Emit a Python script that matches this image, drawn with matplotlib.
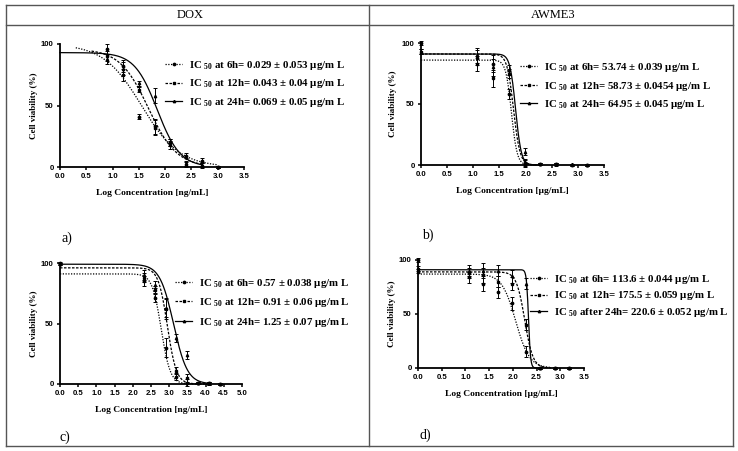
import numpy as np
import matplotlib
matplotlib.use('Agg')
import matplotlib.pyplot as plt
from matplotlib.lines import Line2D

W, H = 738, 451

# ---- data ----
# panel a: DOX, log ng/mL
a_x = [0.9, 1.2, 1.5, 1.8, 2.1, 2.4, 2.7, 3.0]
a_6h = [96, 82, 41, 33, 20, 9, 5, 0]
a_12h = [90, 75, 63, 32, 18, 2, 1, 0]
a_24h = [88, 80, 68, 58, 20, 3, 2, 0]
a_err = [4, 5, 2, 6, 3, 2, 2, 1]
# fit: top, log IC50, hill, x start, x end
a_fit_6h = [100, 1.55, 1.2, 0.3, 3.0]
a_fit_12h = [96, 1.68, 1.6, 0.6, 2.7]
a_fit_24h = [93, 1.85, 2.0, 0.0, 2.7]

# panel b: AWME3, log ug/mL
b_x = [0.0, 1.08, 1.38, 1.68, 1.98, 2.28, 2.58, 2.88, 3.18]
b_6h = [100, 88, 83, 58, 2, 1, 1, 0, 0]
b_12h = [93, 83, 71, 75, 1, 1, 0.5, 0, 0]
b_24h = [93, 90, 80, 78, 11, 1, 1, 0.5, 0]
b_err = [2, 6, 7, 4, 3, 1, 1, 0.5, 0.5]
b_fit_6h = [86, 1.73, 8.0, 0.0, 2.2]
b_fit_12h = [91, 1.77, 7.0, 0.0, 2.25]
b_fit_24h = [91, 1.81, 8.0, 0.0, 2.3]

# panel c: DOX, log ng/mL
c_x = [0.0, 2.3, 2.6, 2.9, 3.2, 3.5, 3.8, 4.1, 4.4]
c_6h = [100, 85, 71, 30, 6, 1, 1, 0.5, 0]
c_12h = [99, 88, 78, 62, 11, 5, 1, 0.5, 0]
c_24h = [99, 90, 82, 63, 38, 24, 1, 1, 0]
c_err = [1, 4, 3, 8, 3, 3, 1, 1, 0.5]
c_fit_6h = [91, 2.78, 3.5, 0.0, 4.1]
c_fit_12h = [96, 2.95, 3.5, 0.0, 4.1]
c_fit_24h = [99, 3.12, 2.3, 0.0, 4.1]

# panel d: AWME3, log ug/mL
d_x = [0.0, 1.08, 1.38, 1.68, 1.98, 2.28, 2.58, 2.88, 3.18]
d_6h = [100, 84, 78, 70, 60, 15, 0, 0, 0]
d_12h = [92, 88, 86, 80, 78, 40, 0, 0, 0]
d_24h = [90, 90, 90, 90, 85, 78, 0, 0, 0]
d_err = [2, 5, 7, 5, 6, 5, 0.5, 0.5, 0.5]
d_fit_6h = [87, 2.06, 3.0, 0.0, 2.8]
d_fit_12h = [89, 2.25, 5.0, 0.0, 2.8]
d_fit_24h = [91, 2.33, 20.0, 0.0, 2.6]

a_labels = ["IC $_{\\mathbf{50}}$ at 6h= 0.029 \u00b1 0.053 \u00b5g/m L",
            "IC $_{\\mathbf{50}}$ at 12h= 0.043 \u00b1 0.04 \u00b5g/m L",
            "IC $_{\\mathbf{50}}$ at 24h= 0.069 \u00b1 0.05 \u00b5g/m L"]
b_labels = ["IC $_{\\mathbf{50}}$ at 6h= 53.74 \u00b1 0.039 \u00b5g/m L",
            "IC $_{\\mathbf{50}}$ at 12h= 58.73 \u00b1 0.0454 \u00b5g/m L",
            "IC $_{\\mathbf{50}}$ at 24h= 64.95 \u00b1 0.045 \u00b5g/m L"]
c_labels = ["IC $_{\\mathbf{50}}$ at 6h= 0.57 \u00b1 0.038 \u00b5g/m L",
            "IC $_{\\mathbf{50}}$ at 12h= 0.91 \u00b1 0.06 \u00b5g/m L",
            "IC $_{\\mathbf{50}}$ at 24h= 1.25 \u00b1 0.07 \u00b5g/m L"]
d_labels = ["IC $_{\\mathbf{50}}$ at 6h= 113.6 \u00b1 0.044 \u00b5g/m L",
            "IC $_{\\mathbf{50}}$ at 12h= 175.5 \u00b1 0.059 \u00b5g/m L",
            "IC $_{\\mathbf{50}}$ after 24h= 220.6 \u00b1 0.052 \u00b5g/m L"]

plt.rcParams['mathtext.fontset'] = 'custom'
plt.rcParams['mathtext.rm'] = 'Liberation Serif'
plt.rcParams['mathtext.bf'] = 'Liberation Serif:bold'

SERIF = 'Liberation Serif'
SANS = 'Liberation Sans'
styles = [((0, (1, 1.2)), 'o'), ((0, (2, 1.2)), 's'), ('-', '^')]
MS = 1.7


def fitline(p):
    top, ic, hill, x0, x1 = p
    xs = np.linspace(x0, x1, 300)
    return xs, top / (1 + 10 ** (hill * (xs - ic)))


def make_panel(fig, px, xmax, ticks, xs, series, err, fits, labels, xlabel,
               leg_xy, leg_sp, ylab_x):
    x0, x1, y100, y0 = px
    ax = fig.add_axes([x0 / W, (H - y0) / H, (x1 - x0) / W, (y0 - y100) / H])
    for (ls, mk), ys, fp in zip(styles, series, fits):
        fx, fy = fitline(fp)
        ax.plot(fx, fy, color='black', lw=0.9, ls=ls, clip_on=False)
        ax.errorbar(xs, ys, yerr=err, fmt=mk, color='black', ms=MS, elinewidth=0.7,
                    capsize=1.5, capthick=0.7, clip_on=False)
    ax.set_xlim(0, xmax)
    ax.set_ylim(0, 100)
    ax.set_xticks(ticks)
    ax.set_xticklabels(["%.1f" % t for t in ticks])
    ax.set_yticks([0, 50, 100])
    for s in ['top', 'right']:
        ax.spines[s].set_visible(False)
    for s in ['left', 'bottom']:
        ax.spines[s].set_linewidth(1.3)
    ax.tick_params(direction='out', length=2.5, width=1.1, pad=2)
    for lb in ax.get_xticklabels() + ax.get_yticklabels():
        lb.set_fontfamily(SANS)
        lb.set_fontweight('bold')
        lb.set_fontsize(5.6)
    ax.set_xlabel(xlabel, fontfamily=SERIF, fontweight='bold', fontsize=6.8, labelpad=6)
    fig.text(ylab_x / W, (H - (y0 + y100) / 2) / H, "Cell viability (%)", rotation=90,
             ha='center', va='center', fontfamily=SERIF, fontweight='bold', fontsize=6.5)
    handles = [Line2D([], [], color='black', ls=ls, marker=mk, ms=MS, lw=0.9)
               for ls, mk in styles]
    fig.legend(handles, labels, loc='upper left',
               bbox_to_anchor=(leg_xy[0] / W, (H - leg_xy[1]) / H),
               frameon=False, handlelength=1.6, handletextpad=0.6, borderpad=0,
               borderaxespad=0, labelspacing=leg_sp,
               prop={'family': SERIF, 'weight': 'bold', 'size': 7.8})
    return ax


fig = plt.figure(figsize=(W / 100, H / 100), dpi=100)

ticks35 = np.arange(0, 3.51, 0.5)
ticks50 = np.arange(0, 5.01, 0.5)
make_panel(fig, (60, 244, 44, 167), 3.5, ticks35, a_x, [a_6h, a_12h, a_24h], a_err,
           [a_fit_6h, a_fit_12h, a_fit_24h], a_labels, "Log Concentration [ng/mL]",
           (165, 59), 0.5, 34)
make_panel(fig, (421, 604, 43, 165), 3.5, ticks35, b_x, [b_6h, b_12h, b_24h], b_err,
           [b_fit_6h, b_fit_12h, b_fit_24h], b_labels, "Log Concentration [\u00b5g/mL]",
           (520, 61), 0.52, 393)
make_panel(fig, (60, 242, 263, 384), 5.0, ticks50, c_x, [c_6h, c_12h, c_24h], c_err,
           [c_fit_6h, c_fit_12h, c_fit_24h], c_labels, "Log Concentration [ng/mL]",
           (175, 277), 0.58, 34)
make_panel(fig, (418, 584, 260, 368), 3.5, ticks35, d_x, [d_6h, d_12h, d_24h], d_err,
           [d_fit_6h, d_fit_12h, d_fit_24h], d_labels, "Log Concentration [\u00b5g/mL]",
           (530, 273), 0.32, 392)

# table frame
def hline(y, xa, xb):
    fig.add_artist(Line2D([xa / W, xb / W], [(H - y) / H, (H - y) / H], color='#555555', lw=1.0))

def vline(x, ya, yb):
    fig.add_artist(Line2D([x / W, x / W], [(H - ya) / H, (H - yb) / H], color='#555555', lw=1.0))

hline(5, 6, 733)
hline(25, 6, 733)
hline(446, 6, 733)
vline(6, 5, 446)
vline(733, 5, 446)
vline(369, 5, 446)

fig.text(190 / W, (H - 15) / H, "DOX", ha='center', va='center', fontfamily=SERIF, fontsize=9)
fig.text(553 / W, (H - 15) / H, "AWME3", ha='center', va='center', fontfamily=SERIF, fontsize=9)
for t, x, y in [("a)", 62, 238), ("b)", 422, 235), ("c)", 60, 437), ("d)", 420, 435)]:
    fig.text(x / W, (H - y) / H, t, ha='left', va='center', fontfamily=SERIF, fontsize=10)

fig.savefig('out.png', dpi=100)
